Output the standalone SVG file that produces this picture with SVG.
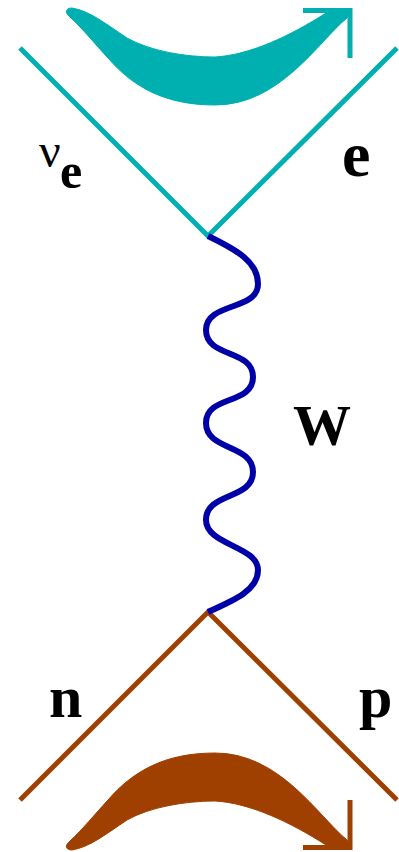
<svg xmlns="http://www.w3.org/2000/svg" width="399" height="852" viewBox="0 0 399 852">
<style>
.teal{stroke:#00B0B0;fill:none;stroke-width:5}
.brown{stroke:#A04000;fill:none;stroke-width:5}
.tealf{fill:#00B0B0}
.brownf{fill:#A04000}
.wave{stroke:#0000A8;fill:none;stroke-width:6}
.lbl{font-family:"Liberation Serif","Times New Roman",serif;font-weight:bold;fill:#000}
</style>
<defs>
<g id="flow">
<path d="M72,8 C90,11 106,24 127,38 C150,51 185,57 215,57 C250,55 290,36 326,13 L351,9 L347,18 C318,42 280,105 215,105 C165,105 133,87 108,58 C95,44 82,28 70,17 C64,12 66,8 72,8 Z"/>
<path d="M303,10.5 H352.5 M350,8 V58" stroke-width="5" fill="none"/>
</g>
</defs>
<g id="connectors">
<path class="teal" d="M20,48 L208,236 L397,48"/>
<path class="brown" d="M20,800 L208,612 L397,800"/>
<path class="wave" d="M208,236 C237,250 258,262 258,284 C258,311 206,302 206,330 C206,358 253,349 253,377 C253,405 206,395 206,423 C206,451 253,444 253,472 C253,500 206,492 206,520 C206,545 258,546 258,570 C258,590 235,600 208,612"/>
</g>
<g id="top-flow" class="tealf" stroke="#00B0B0"><use href="#flow"/></g>
<g id="bottom-flow" class="brownf" stroke="#A04000"><use href="#flow" transform="matrix(1,0,0,-1,0,858)"/></g>
<g id="nu-e"><text class="lbl" x="39" y="167" font-size="48" style="font-weight:normal">ν</text><text class="lbl" x="60" y="188" font-size="50">e</text></g>
<g id="e"><text class="lbl" x="342" y="176" font-size="64">e</text></g>
<g id="W"><text class="lbl" x="293" y="445" font-size="58">W</text></g>
<g id="n"><text class="lbl" x="49" y="717" font-size="60">n</text></g>
<g id="p"><text class="lbl" x="359" y="717" font-size="60">p</text></g>
</svg>
